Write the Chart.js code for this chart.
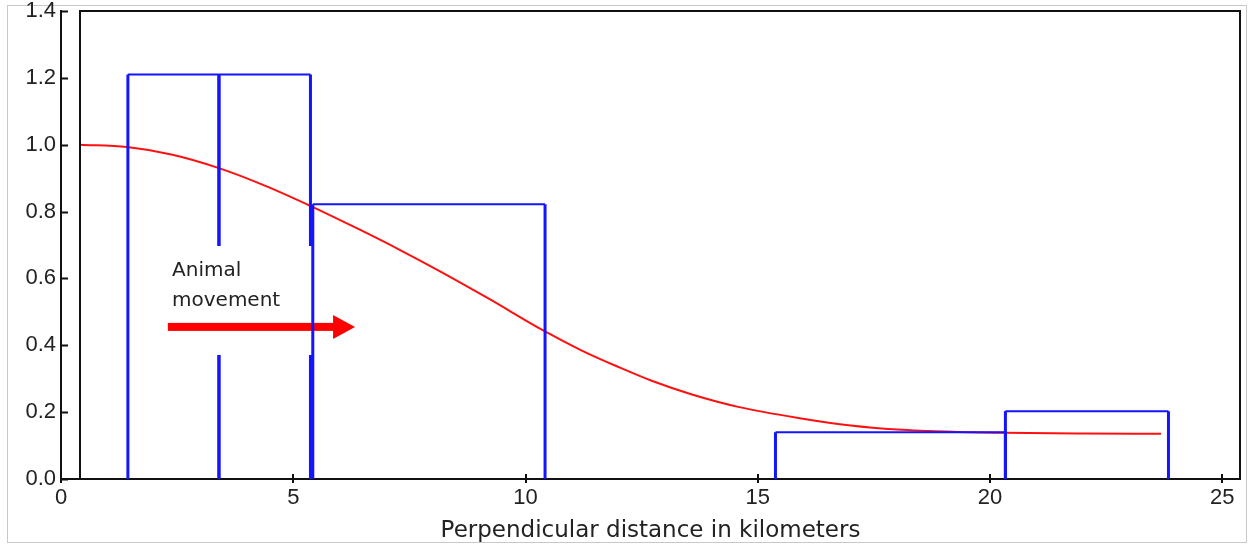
<!DOCTYPE html>
<html>
<head>
<meta charset="utf-8">
<script src="https://cdn.jsdelivr.net/npm/chart.js@4.4.1/dist/chart.umd.min.js"></script>
<style>
  html, body { margin: 0; padding: 0; background: #fff; }
  #wrap { width: 1251px; height: 548px; }
</style>
</head>
<body>
<div id="wrap"><canvas id="chart" width="1251" height="548"></canvas></div>
<script>
// histogram bins (km) - outlines only
const binLeft = [1.44, 3.40, 5.42, 15.38, 20.33];
const binRight = [3.40, 5.37, 10.42, 20.33, 23.84];
const binHeight = [1.21, 1.21, 0.822, 0.140, 0.203];
// these edges are broken where the label sits
const gapEdges = [3.40, 5.37];
const gapRange = [0.371, 0.697];

// detection curve
const curveX = [0.41, 1.42, 2.4, 3.4, 4.4, 5.4, 6.4, 7.3, 8.15, 9.2, 10.37, 11.2, 12.0, 12.73, 13.6, 14.6, 15.9, 17.0, 18.0, 19.2, 20.3, 22.0, 23.68];
const curveY = [1.0, 0.993, 0.970, 0.930, 0.877, 0.815, 0.748, 0.685, 0.622, 0.540, 0.445, 0.385, 0.335, 0.293, 0.252, 0.215, 0.182, 0.160, 0.148, 0.141, 0.138, 0.136, 0.135];

const xTicks = [0, 5, 10, 15, 20, 25];
const yTicks = [0, 0.2, 0.4, 0.6, 0.8, 1.0, 1.2, 1.4];
const xMax = 25.38;
const yMax = 1.4;

// annotation
const noteLines = ['Animal', 'movement'];
const noteX = 2.39;
const noteY = [0.622, 0.533];
const arrowFrom = 2.30, arrowTo = 6.33, arrowY = 0.455;

const textColor = '#222';
const tickFont = '"Liberation Sans", Arial, sans-serif';
const textFont = '"DejaVu Sans", Verdana, sans-serif';
const blue = '#1414ff';

// build the outline of one bin as a polyline (null = gap)
function binOutline(i) {
  const L = binLeft[i], R = binRight[i], h = binHeight[i];
  const pts = [];
  if (gapEdges.includes(L)) {
    pts.push({x: L, y: 0}, {x: L, y: gapRange[0]}, {x: L, y: null}, {x: L, y: gapRange[1]});
  } else {
    pts.push({x: L, y: 0});
  }
  pts.push({x: L, y: h}, {x: R, y: h});
  if (gapEdges.includes(R)) {
    pts.push({x: R, y: gapRange[1]}, {x: R, y: null}, {x: R, y: gapRange[0]}, {x: R, y: 0});
  } else {
    pts.push({x: R, y: 0});
  }
  return pts;
}

const binSets = binLeft.map((_, i) => ({
  data: binOutline(i),
  showLine: true,
  spanGaps: false,
  borderColor: blue,
  borderWidth: 3,
  pointRadius: 0,
  segment: {
    borderWidth: c => (c.p0.parsed.x === c.p1.parsed.x ? 3 : 2)
  }
}));

const curveSet = {
  data: curveX.map((x, i) => ({x: x, y: curveY[i]})),
  showLine: true,
  borderColor: '#ff1010',
  borderWidth: 2,
  pointRadius: 0,
  cubicInterpolationMode: 'monotone'
};

const decorPlugin = {
  id: 'decor',
  beforeDraw(chart) {
    const ctx = chart.ctx;
    ctx.save();
    ctx.strokeStyle = '#c8c8c8';
    ctx.lineWidth = 1;
    ctx.strokeRect(7.5, 5.5, 1239, 537);
    ctx.restore();
  },
  beforeDatasetsDraw(chart) {
    const ctx = chart.ctx;
    const xs = chart.scales.x, ys = chart.scales.y;
    ctx.save();
    // label
    ctx.fillStyle = textColor;
    ctx.font = '20px ' + textFont;
    ctx.textBaseline = 'middle';
    ctx.textAlign = 'left';
    noteLines.forEach((t, i) => ctx.fillText(t, xs.getPixelForValue(noteX), ys.getPixelForValue(noteY[i])));
    // arrow
    const x0 = xs.getPixelForValue(arrowFrom), x1 = xs.getPixelForValue(arrowTo);
    const y = ys.getPixelForValue(arrowY);
    ctx.fillStyle = '#ff0000';
    ctx.fillRect(x0, y - 4, x1 - x0 - 20, 8);
    ctx.beginPath();
    ctx.moveTo(x1 - 22, y - 12);
    ctx.lineTo(x1, y);
    ctx.lineTo(x1 - 22, y + 12);
    ctx.closePath();
    ctx.fill();
    ctx.restore();
  },
  afterDraw(chart) {
    const ctx = chart.ctx;
    const a = chart.chartArea;
    const xs = chart.scales.x, ys = chart.scales.y;
    ctx.save();
    ctx.strokeStyle = '#111';
    ctx.lineWidth = 2;
    // plot frame
    ctx.beginPath();
    ctx.moveTo(a.left + 19, a.bottom);
    ctx.lineTo(a.left + 19, a.top);
    ctx.lineTo(a.right, a.top);
    ctx.lineTo(a.right, a.bottom);
    ctx.stroke();
    // inner ticks
    ctx.beginPath();
    yTicks.forEach(v => {
      const py = Math.round(ys.getPixelForValue(v)) + 0.5;
      ctx.moveTo(a.left, py);
      ctx.lineTo(a.left + 7, py);
    });
    xTicks.forEach(v => {
      const px = Math.round(xs.getPixelForValue(v));
      ctx.moveTo(px, a.bottom - 5);
      ctx.lineTo(px, a.bottom + 4);
    });
    ctx.stroke();
    ctx.restore();
  }
};

new Chart(document.getElementById('chart'), {
  type: 'scatter',
  data: { datasets: [...binSets, curveSet] },
  options: {
    responsive: false,
    animation: false,
    layout: { padding: { top: 11, right: 11, left: 0, bottom: 0 } },
    plugins: { legend: { display: false }, tooltip: { enabled: false } },
    scales: {
      x: {
        type: 'linear',
        min: 0,
        max: xMax,
        afterBuildTicks: s => { s.ticks = xTicks.map(v => ({ value: v })); },
        afterFit: s => { s.height = 69; },
        grid: { display: false, drawTicks: false },
        border: { display: true, color: '#111', width: 2 },
        ticks: {
          color: textColor,
          font: { family: tickFont, size: 22, lineHeight: 1 },
          padding: 8,
          maxRotation: 0,
          autoSkip: false,
          callback: v => String(v)
        },
        title: {
          display: true,
          text: 'Perpendicular distance in kilometers',
          color: textColor,
          font: { family: textFont, size: 23, lineHeight: 1 },
          padding: { top: 6, bottom: 5 }
        }
      },
      y: {
        type: 'linear',
        min: 0,
        max: yMax,
        afterBuildTicks: s => { s.ticks = yTicks.map(v => ({ value: v })); },
        afterFit: s => { s.width = 61; s.paddingTop = 0; s.paddingBottom = 0; },
        grid: { display: false, drawTicks: false },
        border: { display: true, color: '#111', width: 2 },
        ticks: {
          color: textColor,
          font: { family: tickFont, size: 22, lineHeight: 0.5 },
          padding: 5,
          callback: v => v.toFixed(1)
        }
      }
    }
  },
  plugins: [decorPlugin]
});
</script>
</body>
</html>
